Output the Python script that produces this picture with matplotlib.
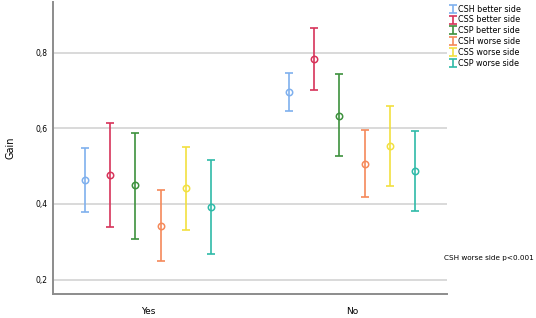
import numpy as np
import matplotlib
matplotlib.use('Agg')
import matplotlib.pyplot as plt

groups = ['Yes', 'No']
series = ['CSH better side', 'CSS better side', 'CSP better side',
          'CSH worse side', 'CSS worse side', 'CSP worse side']
colors = ['#7fb0ee', '#d7335a', '#3d913d', '#f5895a', '#f2e040', '#2fbaa8']

# mean, lower, upper for each series, per group (Yes, No)
means = [[0.464, 0.697], [0.477, 0.784], [0.449, 0.634],
         [0.342, 0.507], [0.442, 0.554], [0.393, 0.487]]
lower = [[0.380, 0.646], [0.340, 0.701], [0.307, 0.527],
         [0.248, 0.419], [0.331, 0.447], [0.267, 0.382]]
upper = [[0.548, 0.748], [0.615, 0.867], [0.589, 0.744],
         [0.436, 0.596], [0.552, 0.660], [0.517, 0.593]]

fig = plt.figure(figsize=(5.36, 3.18), dpi=100)
ax = fig.add_axes([53/536, 1-294/318, (447-53)/536, 292/318])

offs = (np.arange(len(series)) - 2.5) * 0.123
xc = np.arange(len(groups))
for i, name in enumerate(series):
    m = np.array(means[i])
    lo = m - np.array(lower[i])
    hi = np.array(upper[i]) - m
    ax.errorbar(xc + offs[i], m, yerr=[lo, hi], fmt='none', ecolor=colors[i],
                elinewidth=1.2, capsize=3.2, capthick=1.2, label=name, zorder=3)
    ax.plot(xc + offs[i], m, 'o', ms=4.6, mfc='none', mec=colors[i], mew=1.1, zorder=4)

ax.set_xlim(-0.466, 1.466)
ax.set_ylim(0.1616, 0.935)
ax.set_xticks(xc)
ax.set_xticklabels(groups, fontsize=6.5)
ax.set_yticks([0.2, 0.4, 0.6, 0.8])
ax.set_yticklabels(['0,2', '0,4', '0,6', '0,8'], fontsize=5.5)
ax.tick_params(length=0, pad=4)
ax.tick_params(axis='x', pad=9)
ax.grid(axis='y', color='#d9d9d9', lw=1.4)
ax.set_axisbelow(True)
for s in ['top', 'right']:
    ax.spines[s].set_visible(False)
for s in ['left', 'bottom']:
    ax.spines[s].set_color('#8c8c8c')
    ax.spines[s].set_linewidth(1.4)
ax.set_ylabel('Gain', fontsize=7, labelpad=14)

fig.legend(loc='upper left', bbox_to_anchor=(446/536, 1.003), frameon=False,
           fontsize=5.8, handlelength=0.4, handletextpad=0.35, labelspacing=0.22,
           borderpad=0.2)
fig.text(444/536, 1-258/318, 'CSH worse side p<0.001', fontsize=5.2, va='center')

fig.savefig('out.png', dpi=100)
